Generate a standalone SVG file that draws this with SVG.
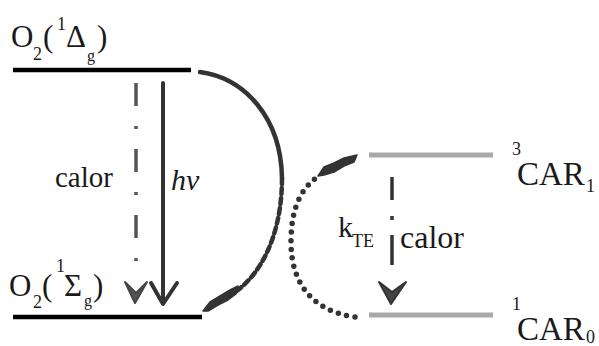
<svg xmlns="http://www.w3.org/2000/svg" width="599" height="346" viewBox="0 0 599 346">
<style>
  text { font-family: "Liberation Serif", "DejaVu Serif", serif; fill: #1a1a1a; }
  .big { font-size: 31px; }
  .sm { font-size: 18px; }
  .lvl { stroke: #000; stroke-width: 4.5; fill: none; }
  .lvlg { stroke: #a8a8a8; stroke-width: 5; fill: none; }
  .arr { stroke: #333; fill: none; stroke-linecap: round; stroke-linejoin: round; }
  .blob { fill: #333; stroke: #333; stroke-width: 1.5; stroke-linejoin: round; }
</style>
<rect width="599" height="346" fill="#fff"/>

<g id="o2-delta">
  <line class="lvl" x1="13" y1="70" x2="191" y2="70"/>
  <text class="big" x="11" y="47">O</text>
  <text class="sm" x="33" y="60">2</text>
  <text class="big" x="43" y="47">(</text>
  <text class="sm" x="57" y="30">1</text>
  <text class="big" x="66" y="47">Δ</text>
  <text font-size="16" x="87" y="61">g</text>
  <text class="big" x="97" y="47">)</text>
</g>

<g id="o2-sigma">
  <line class="lvl" x1="13" y1="317" x2="202" y2="317"/>
  <text class="big" x="9" y="296">O</text>
  <text class="sm" x="33" y="308">2</text>
  <text class="big" x="42" y="296">(</text>
  <text class="sm" x="56" y="272">1</text>
  <text class="big" x="64" y="296">Σ</text>
  <text font-size="16" x="84" y="306">g</text>
  <text class="big" x="93" y="296">)</text>
</g>

<g id="car1">
  <line class="lvlg" x1="369" y1="155" x2="493" y2="155"/>
  <text class="sm" x="512" y="155">3</text>
  <text font-size="33" x="517" y="185">CAR</text>
  <text class="sm" x="586" y="192">1</text>
</g>

<g id="car0">
  <line class="lvlg" x1="369" y1="315" x2="493" y2="315"/>
  <text class="sm" x="512" y="310">1</text>
  <text font-size="33" x="517" y="340">CAR</text>
  <text class="sm" x="586" y="343">0</text>
</g>

<g id="labels">
  <text font-size="29" x="55" y="187">calor</text>
  <text font-size="30" font-style="italic" x="171" y="190">hν</text>
  <text font-size="30" x="338" y="237">k</text>
  <text class="sm" x="352" y="247">TE</text>
  <text font-size="32" x="400" y="248">calor</text>
</g>

<g id="connectors">
  <line stroke="#555" stroke-width="3.5" x1="136" y1="83" x2="136" y2="266" stroke-dasharray="23 20 3 20"/>
  <path fill="#555" stroke="#444" stroke-width="2" stroke-linejoin="round" d="M125,282 L135,303 L147,282 L136,293 Z"/>
  <line class="arr" stroke-width="4" x1="163" y1="83" x2="163" y2="302"/>
  <polyline class="arr" stroke-width="4" points="151,283 163,304 177,283"/>
  <line stroke="#333" stroke-width="3.5" x1="392" y1="177" x2="392" y2="200"/>
  <line stroke="#333" stroke-width="3.5" x1="392" y1="216" x2="392" y2="220"/>
  <line stroke="#333" stroke-width="3.5" x1="392" y1="235" x2="392" y2="265"/>
  <path fill="#444" stroke="#333" stroke-width="2" stroke-linejoin="round" d="M379,282 L391,304 L406,282 L392,292 Z"/>
  <path class="arr" stroke-width="4.5" d="M200,72 C245,78 281,118 282,178"/>
  <path class="arr" stroke-width="4.5" stroke-linecap="butt" stroke-dasharray="6 4" d="M282,178 C282,238 258,288 214,303"/>
  <path class="blob" d="M203,311 L210,302 L220,296 L230,290 L238,286 L236,294 L228,300 L218,305 L208,311 Z"/>
  <path class="arr" stroke-width="5.5" stroke-dasharray="0 8.5" d="M355,317 C312,311 291,283 291,242 C291,205 303,188 316,178"/>
  <path class="blob" d="M318,176 L324,167 L334,163 L344,158 L357,155 L354,162 L344,166 L334,172 L324,175 Z"/>
</g>
</svg>
